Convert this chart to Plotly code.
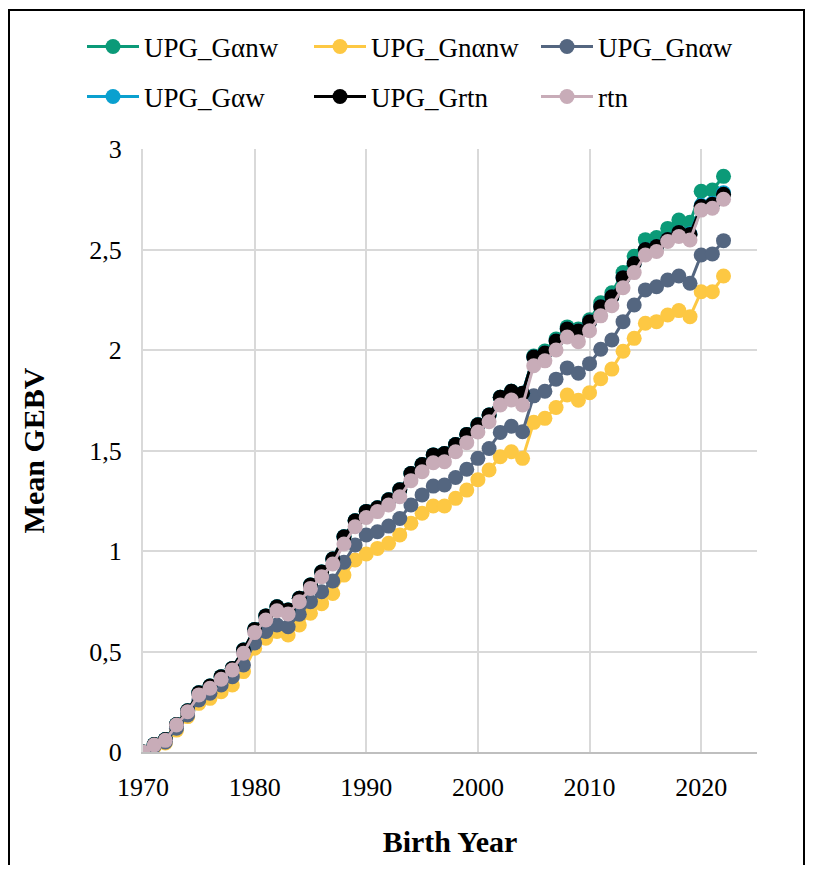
import plotly.graph_objects as go

years = list(range(1970, 2023))

rtn = [0.00, 0.035, 0.058, 0.134, 0.200, 0.284, 0.317, 0.362, 0.408, 0.491,
       0.594, 0.657, 0.703, 0.687, 0.748, 0.814, 0.872, 0.935, 1.035, 1.121,
       1.167, 1.196, 1.229, 1.270, 1.350, 1.394, 1.439, 1.444, 1.494, 1.539,
       1.592, 1.643, 1.726, 1.751, 1.726, 1.922, 1.946, 2.000, 2.065, 2.041,
       2.096, 2.170, 2.220, 2.310, 2.385, 2.473, 2.490, 2.540, 2.565, 2.547,
       2.696, 2.705, 2.750]

upg_grtn = [0.00, 0.037, 0.062, 0.137, 0.205, 0.295, 0.328, 0.375, 0.416, 0.507,
            0.610, 0.677, 0.723, 0.706, 0.765, 0.831, 0.895, 0.960, 1.071, 1.150,
            1.197, 1.215, 1.255, 1.305, 1.385, 1.430, 1.478, 1.485, 1.530, 1.580,
            1.628, 1.676, 1.765, 1.795, 1.785, 1.965, 1.985, 2.045, 2.105, 2.095,
            2.140, 2.215, 2.265, 2.360, 2.430, 2.500, 2.515, 2.550, 2.585, 2.575,
            2.715, 2.725, 2.775]

upg_gaw = [0.00, 0.037, 0.062, 0.137, 0.205, 0.295, 0.328, 0.375, 0.416, 0.507,
           0.610, 0.677, 0.723, 0.706, 0.765, 0.831, 0.895, 0.960, 1.071, 1.150,
           1.197, 1.215, 1.255, 1.305, 1.385, 1.430, 1.478, 1.485, 1.530, 1.580,
           1.628, 1.676, 1.765, 1.795, 1.785, 1.965, 1.985, 2.045, 2.105, 2.095,
           2.140, 2.215, 2.265, 2.360, 2.430, 2.500, 2.515, 2.550, 2.585, 2.578,
           2.720, 2.730, 2.782]

upg_ganw = [0.00, 0.037, 0.062, 0.137, 0.205, 0.295, 0.328, 0.375, 0.416, 0.507,
            0.610, 0.677, 0.723, 0.706, 0.765, 0.831, 0.895, 0.960, 1.071, 1.150,
            1.197, 1.215, 1.255, 1.305, 1.385, 1.430, 1.478, 1.485, 1.530, 1.580,
            1.628, 1.676, 1.765, 1.795, 1.785, 1.970, 1.995, 2.055, 2.115, 2.105,
            2.150, 2.235, 2.285, 2.385, 2.466, 2.549, 2.560, 2.605, 2.647, 2.635,
            2.790, 2.796, 2.864]

upg_gnaw = [0.00, 0.030, 0.050, 0.118, 0.184, 0.259, 0.292, 0.333, 0.375, 0.433,
            0.542, 0.600, 0.632, 0.623, 0.685, 0.748, 0.797, 0.851, 0.944, 1.030,
            1.080, 1.096, 1.124, 1.162, 1.229, 1.279, 1.323, 1.328, 1.366, 1.407,
            1.461, 1.510, 1.590, 1.621, 1.593, 1.772, 1.795, 1.855, 1.911, 1.884,
            1.932, 2.004, 2.050, 2.141, 2.224, 2.299, 2.315, 2.348, 2.368, 2.332,
            2.473, 2.478, 2.544]

upg_gnanw = [0.00, 0.025, 0.045, 0.109, 0.176, 0.242, 0.267, 0.300, 0.333, 0.400,
             0.516, 0.566, 0.600, 0.582, 0.632, 0.690, 0.738, 0.789, 0.880, 0.955,
             0.985, 1.013, 1.038, 1.080, 1.138, 1.188, 1.224, 1.224, 1.262, 1.303,
             1.355, 1.403, 1.469, 1.494, 1.461, 1.640, 1.660, 1.714, 1.776, 1.750,
             1.787, 1.857, 1.905, 1.994, 2.058, 2.133, 2.141, 2.174, 2.196, 2.166,
             2.290, 2.290, 2.368]

y_tickvals = [0, 0.5, 1, 1.5, 2, 2.5, 3]
y_ticktext = ["0", "0,5", "1", "1,5", "2", "2,5", "3"]
x_tickvals = [1970, 1980, 1990, 2000, 2010, 2020]

series = [
    ("UPG_G\u03b1nw", upg_ganw, "#0b9a78", "legend"),
    ("UPG_Gn\u03b1nw", upg_gnanw, "#fdc843", "legend"),
    ("UPG_Gn\u03b1w", upg_gnaw, "#546680", "legend"),
    ("UPG_G\u03b1w", upg_gaw, "#0aa0cf", "legend2"),
    ("UPG_Grtn", upg_grtn, "#000000", "legend2"),
    ("rtn", rtn, "#c8acb8", "legend2"),
]

FONT = "Liberation Serif, Times New Roman, serif"

fig = go.Figure()
for name, vals, color, lg in series:
    fig.add_trace(go.Scatter(
        x=years, y=vals, name=name, mode="lines+markers",
        line=dict(color=color, width=3),
        marker=dict(color=color, size=15),
        legend=lg,
    ))

# page body has an 8px margin; figure is sized to fit inside the window
OFF = 8
W, H = 797, 857
L, R, T, B = 135, 48, 141, 113
pw, ph = W - L - R, H - T - B

def px_x(p):
    return (p - OFF - L) / pw

def px_y(p):
    return (H - B - (p - OFF)) / ph

legend_common = dict(
    orientation="h", font=dict(family=FONT, size=27, color="#000000"),
    entrywidth=160, entrywidthmode="pixels", itemwidth=52,
    bgcolor="rgba(0,0,0,0)", xanchor="left", yanchor="middle",
    tracegroupgap=0,
)

fig.update_layout(
    width=W, height=H,
    margin=dict(l=L, r=R, t=T, b=B),
    paper_bgcolor="white", plot_bgcolor="white",
    font=dict(family=FONT, size=26, color="#000000"),
    legend=dict(x=px_x(82), y=px_y(47), **legend_common),
    legend2=dict(x=px_x(82), y=px_y(97), **legend_common),
    xaxis=dict(
        range=[1970, 2025], tickvals=x_tickvals,
        showgrid=True, gridcolor="#d9d9d9", gridwidth=2,
        showline=True, linecolor="#bfbfbf", linewidth=2,
        zeroline=False, ticks="", tickfont=dict(size=26),
        ticklabelstandoff=11,
        title=dict(text="<b>Birth Year</b>", font=dict(size=30), standoff=30),
    ),
    yaxis=dict(
        range=[0, 3], tickvals=y_tickvals, ticktext=y_ticktext,
        showgrid=True, gridcolor="#d9d9d9", gridwidth=2,
        showline=True, linecolor="#d9d9d9", linewidth=2,
        zeroline=False, ticks="", tickfont=dict(size=26),
        ticklabelstandoff=14,
        title=dict(text="<b>Mean GEBV</b>", font=dict(size=30), standoff=36),
    ),
    shapes=[dict(type="rect", xref="paper", yref="paper",
                 x0=px_x(9), x1=px_x(OFF + W - 1), y0=px_y(900), y1=px_y(10),
                 line=dict(color="#000000", width=2), fillcolor="rgba(0,0,0,0)",
                 layer="above")],
)

fig.write_html("out.html")
